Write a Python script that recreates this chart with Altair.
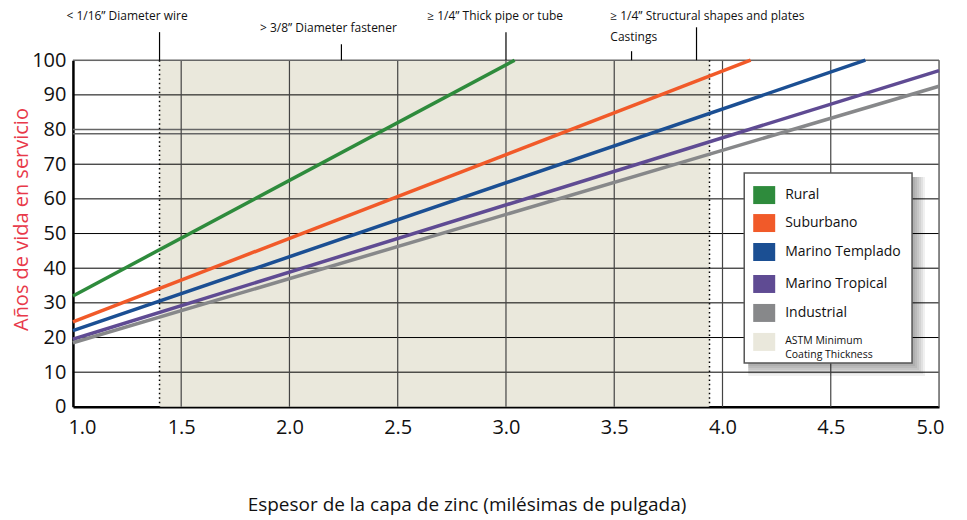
import altair as alt
import pandas as pd

# ---------------- data ----------------
series = ["Rural", "Suburbano", "Marino Templado", "Marino Tropical", "Industrial"]
colors = ["#2e8b3c", "#f15a29", "#1b4f93", "#5f4b93", "#87888a"]
x_start = [1.0, 1.0, 1.0, 1.0, 1.0]
y_start = [32.0, 24.5, 22.0, 19.5, 18.5]
x_end = [3.04, 4.13, 4.66, 5.0, 5.0]
y_end = [100.0, 100.0, 100.0, 97.0, 92.5]

x_ticks = [1.0, 1.5, 2.0, 2.5, 3.0, 3.5, 4.0, 4.5, 5.0]
y_ticks = [0, 10, 20, 30, 40, 50, 60, 70, 80, 90, 100]
astm_range = [1.4, 3.94]
double_line = [80.0, 78.8]

annot_labels = ["<  1/16\u201d Diameter wire", ">  3/8\u201d Diameter fastener",
                "\u2265  1/4\u201d Thick pipe or tube",
                "\u2265  1/4\u201d Structural shapes and plates", "Castings"]
annot_tick_x = [1.4, 2.24, 3.0, 3.88, 3.58]
annot_text_x = [1.25, 2.18, 2.95, 3.93, 3.59]
annot_tick_top = [108.1, 104.6, 108.1, 109.5, 102.6]
annot_text_y = [112.7, 109.2, 112.7, 112.7, 106.6]

legend_names = series
astm_label = ["ASTM Minimum", "Coating Thickness"]

# ---------------- layout ----------------
W, H = 867, 347
FONT = "Open Sans"
LEG_L, LEG_R, LEG_T, LEG_B = 672, 840, 113, 303
LEG_ROWS = [135, 163, 192, 224, 253]
ASTM_ROW = 282

rows = []
for s, xs, ys, xe, ye in zip(series, x_start, y_start, x_end, y_end):
    rows.append({"series": s, "x": xs, "y": ys})
    rows.append({"series": s, "x": xe, "y": ye})
lines_df = pd.DataFrame(rows)

xscale = alt.Scale(domain=[1, 5], nice=False, zero=False)
yscale = alt.Scale(domain=[0, 100], nice=False)

XAX = alt.Axis(values=x_ticks, format=".1f", labelFontSize=20, labelFont=FONT,
               labelColor="#111", tickSize=0, labelPadding=11, grid=False,
               domainColor="#000", domainWidth=2.5,
               title="Espesor de la capa de zinc (milésimas de pulgada)",
               titleFont=FONT, titleFontSize=19, titleFontWeight="normal",
               titleColor="#111", titleX=394, titleY=98, titleBaseline="middle",
               labelFlush=True, labelFlushOffset=5)
YAX = alt.Axis(values=y_ticks, labelFontSize=20, labelFont=FONT, labelColor="#111",
               tickSize=0, labelPadding=7, grid=False, domainColor="#000",
               domainWidth=2.5, title="Años de vida en servicio", titleFont=FONT,
               titleFontSize=20, titleFontWeight="normal", titleColor="#e8394a",
               titleAngle=-90, titleX=-51, titleY=159, titleAlign="center",
               titleBaseline="middle")


def X(f):
    return alt.X(f, scale=xscale, axis=XAX)


def Y(f):
    return alt.Y(f, scale=yscale, axis=YAX)


# shaded ASTM region
shade = alt.Chart(pd.DataFrame({"x0": [astm_range[0]], "x1": [astm_range[1]],
                                "y0": [0], "y1": [100]})).mark_rect(
    color="#eae8dc").encode(x=X("x0:Q"), x2="x1:Q", y=Y("y0:Q"), y2="y1:Q")

# horizontal grid lines
hgrid = alt.Chart(pd.DataFrame({"y": [v for v in y_ticks if v not in (0, 80, 100)]})).mark_rule(
    color="#000", strokeWidth=1).encode(y=Y("y:Q"), x=alt.value(0), x2=alt.value(W))

dbl = alt.Chart(pd.DataFrame({"y": double_line})).mark_rule(
    color="#666", strokeWidth=1.5).encode(y=Y("y:Q"), x=alt.value(0), x2=alt.value(W))

# vertical grid lines
vgrid = alt.Chart(pd.DataFrame({"x": [v for v in x_ticks if v not in (1.0, 5.0)]})).mark_rule(
    color="#444", strokeWidth=1.2).encode(x=X("x:Q"), y=alt.value(0), y2=alt.value(H))

# frame (top & right)
top_rule = alt.Chart(pd.DataFrame({"y": [100]})).mark_rule(color="#666", strokeWidth=1.5).encode(
    y=Y("y:Q"), x=alt.value(0), x2=alt.value(W))
right_rule = alt.Chart(pd.DataFrame({"x": [5.0]})).mark_rule(color="#666", strokeWidth=1.5).encode(
    x=X("x:Q"), y=alt.value(0), y2=alt.value(H))

# dotted ASTM boundaries
dotted = alt.Chart(pd.DataFrame({"x": astm_range})).mark_rule(
    color="#000", strokeWidth=1.5, strokeDash=[1.5, 3]).encode(
    x=X("x:Q"), y=alt.value(0), y2=alt.value(H))

# data lines
lines = alt.Chart(lines_df).mark_line(strokeWidth=3.5, strokeCap="butt").encode(
    x=X("x:Q"), y=Y("y:Q"),
    color=alt.Color("series:N", scale=alt.Scale(domain=series, range=colors), legend=None),
    detail="series:N")

# annotations above the plot
ann_df = pd.DataFrame({"label": annot_labels, "tx": annot_tick_x, "ttop": annot_tick_top,
                       "lx": annot_text_x, "ly": annot_text_y, "base": [100] * 5})
ann_ticks = alt.Chart(ann_df).mark_rule(color="#000", strokeWidth=1.2).encode(
    x=X("tx:Q"), y=Y("ttop:Q"), y2="base:Q")
ann_text = alt.Chart(ann_df).mark_text(font=FONT, fontSize=12, color="#111",
                                       align="center", baseline="middle").encode(
    x=X("lx:Q"), y=Y("ly:Q"), text="label:N")

# legend box with soft shadow
shadow_layers = []
for d in [3, 5, 7, 9, 11, 13]:
    shadow_layers.append(
        alt.Chart(pd.DataFrame({"a": [0]})).mark_rect(color="#000", opacity=0.06).encode(
            x=alt.value(LEG_L + 4), x2=alt.value(LEG_R + d),
            y=alt.value(LEG_T + 4), y2=alt.value(LEG_B + d)))
leg_box = alt.Chart(pd.DataFrame({"a": [0]})).mark_rect(
    fill="#ffffff", stroke="#555", strokeWidth=1.5).encode(
    x=alt.value(LEG_L), x2=alt.value(LEG_R), y=alt.value(LEG_T), y2=alt.value(LEG_B))

leg_items = []
for name, col, yc in zip(legend_names, colors, LEG_ROWS):
    leg_items.append(alt.Chart(pd.DataFrame({"a": [0]})).mark_rect(color=col).encode(
        x=alt.value(681), x2=alt.value(703), y=alt.value(yc - 9), y2=alt.value(yc + 9)))
    leg_items.append(alt.Chart(pd.DataFrame({"t": [name]})).mark_text(
        font=FONT, fontSize=14, color="#111", align="left", baseline="middle").encode(
        x=alt.value(713), y=alt.value(yc), text="t:N"))
leg_items.append(alt.Chart(pd.DataFrame({"a": [0]})).mark_rect(color="#eae8dc").encode(
    x=alt.value(681), x2=alt.value(703), y=alt.value(ASTM_ROW - 9), y2=alt.value(ASTM_ROW + 9)))
leg_items.append(alt.Chart(pd.DataFrame({"a": [0]})).mark_text(
    font=FONT, fontSize=10.5, color="#111", align="left", baseline="middle",
    text=astm_label, lineHeight=14).encode(x=alt.value(713), y=alt.value(ASTM_ROW - 1)))

chart = alt.layer(shade, hgrid, dbl, vgrid, top_rule, right_rule, dotted, lines,
                  ann_ticks, ann_text, *shadow_layers, leg_box, *leg_items).properties(
    width=W, height=H,
    autosize=alt.AutoSizeParams(type="none"),
    padding={"left": 65, "top": 52, "right": 20, "bottom": 112},
).configure_view(stroke=None).configure(background="#ffffff")

chart.save("out.html", embed_options={"renderer": "svg", "actions": False})
